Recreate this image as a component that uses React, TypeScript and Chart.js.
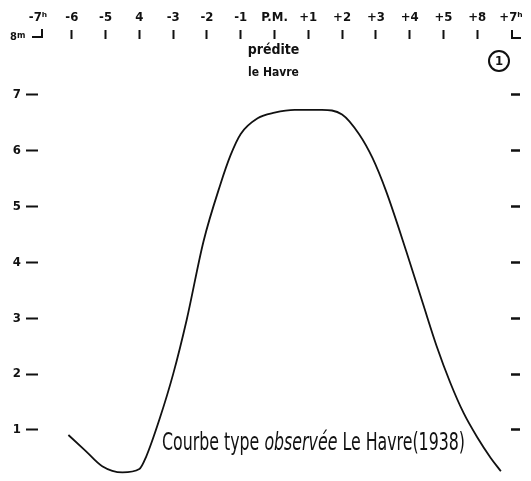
import React, { useEffect, useRef } from 'react';
import { Chart, registerables } from 'chart.js';

Chart.register(...registerables);

// ---- data ----
const hours = [-6.1, -5.6, -5.1, -4.5, -4.0, -3.8, -3.4, -3.0, -2.6, -2.1, -1.6, -1.3, -1.0, -0.5, 0, 0.6, 1.4, 2.0, 2.5, 2.9, 3.3, 3.9, 4.4, 4.8, 5.2, 5.6, 6.0, 6.4, 6.7];
const heights = [0.91, 0.63, 0.35, 0.24, 0.3, 0.52, 1.2, 2.0, 2.97, 4.38, 5.4, 5.92, 6.3, 6.58, 6.68, 6.73, 6.73, 6.65, 6.3, 5.87, 5.28, 4.2, 3.25, 2.5, 1.85, 1.3, 0.87, 0.5, 0.26];

const hourTicks = [-7, -6, -5, -4, -3, -2, -1, 0, 1, 2, 3, 4, 5, 6, 7];
const hourLabels = ['-7ʰ', '-6', '-5', '4', '-3', '-2', '-1', 'P.M.', '+1', '+2', '+3', '+4', '+5', '+8', '+7ʰ'];
const heightTicks = [1, 2, 3, 4, 5, 6, 7];
const heightLabels = ['1', '2', '3', '4', '5', '6', '7'];
const topHeightLabel = '8';
const unitLabel = 'm';
const predictedLabels = ['prédite', 'le Havre'];
const figureNumber = '1';
const titleParts = [
  { text: 'Courbe type ', italic: false },
  { text: 'observée', italic: true },
  { text: ' Le Havre(1938)', italic: false },
];

const X_MIN = -7;
const X_MAX = 7;
const Y_MIN = 0.14;
const Y_MAX = 8;

const FONT = '"DejaVu Sans Condensed", "Liberation Sans Narrow", "DejaVu Sans", sans-serif';
const INK = '#111';

const decorations = {
  id: 'decorations',
  afterDraw(chart: any) {
    const ctx = chart.ctx as CanvasRenderingContext2D;
    const xs = chart.scales.x;
    const ys = chart.scales.y;
    const x0 = xs.getPixelForValue(X_MIN);
    const x7 = xs.getPixelForValue(X_MAX);
    const xPM = xs.getPixelForValue(0);
    const yTop = ys.getPixelForValue(Y_MAX);
    ctx.save();
    ctx.fillStyle = INK;
    ctx.strokeStyle = INK;

    // "8m" corner with bracket
    ctx.font = `bold 11px ${FONT}`;
    ctx.textAlign = 'left';
    ctx.textBaseline = 'alphabetic';
    ctx.fillText(topHeightLabel, 10, yTop + 1);
    ctx.font = `bold 9px ${FONT}`;
    ctx.fillText(unitLabel, 17, yTop - 1);
    ctx.lineWidth = 2;
    ctx.beginPath();
    ctx.moveTo(x0 - 6, yTop - 2);
    ctx.lineTo(x0 + 4, yTop - 2);
    ctx.lineTo(x0 + 4, yTop - 10);
    ctx.stroke();

    // "L" bracket at +7h
    ctx.beginPath();
    ctx.moveTo(x7 + 1, yTop - 9);
    ctx.lineTo(x7 + 1, yTop - 1);
    ctx.lineTo(x7 + 10, yTop - 1);
    ctx.stroke();

    // prédite / le Havre
    ctx.textAlign = 'center';
    ctx.textBaseline = 'middle';
    ctx.font = `bold 14px ${FONT}`;
    ctx.fillText(predictedLabels[0], xPM - 1, yTop + 11);
    ctx.font = `bold 12px ${FONT}`;
    ctx.fillText(predictedLabels[1], xPM - 1, yTop + 34);

    // circled figure number
    ctx.lineWidth = 2;
    ctx.beginPath();
    ctx.arc(x7 - 12, yTop + 22, 10, 0, Math.PI * 2);
    ctx.stroke();
    ctx.font = `bold 13px ${FONT}`;
    ctx.fillText(figureNumber, x7 - 12, yTop + 23);

    // title, condensed
    const size = 25;
    const fonts = titleParts.map((p) => `${p.italic ? 'italic ' : ''}${size}px ${FONT}`);
    let total = 0;
    const widths = titleParts.map((p, i) => {
      ctx.font = fonts[i];
      const w = ctx.measureText(p.text).width;
      total += w;
      return w;
    });
    const targetW = 303;
    const sx = targetW / total;
    ctx.translate(162, 450);
    ctx.scale(sx, 1);
    ctx.textAlign = 'left';
    ctx.textBaseline = 'alphabetic';
    let cx = 0;
    titleParts.forEach((p, i) => {
      ctx.font = fonts[i];
      ctx.fillText(p.text, cx, 0);
      cx += widths[i];
    });
    ctx.restore();
  },
};

const zeroPad = (s: any) => {
  s.paddingTop = 0;
  s.paddingBottom = 0;
  s.paddingLeft = 0;
  s.paddingRight = 0;
};

export default function App() {
  const ref = useRef<HTMLCanvasElement | null>(null);
  useEffect(() => {
    if (!ref.current) return;
    const chart = new Chart(ref.current, {
      type: 'line',
      data: {
        datasets: [
          {
            data: hours.map((h, i) => ({ x: h, y: heights[i] })),
            borderColor: INK,
            borderWidth: 1.8,
            pointRadius: 0,
            fill: false,
            cubicInterpolationMode: 'monotone',
          },
        ],
      },
      options: {
        animation: false,
        responsive: true,
        maintainAspectRatio: false,
        layout: { padding: { top: 0, left: 0, right: 0, bottom: 3 } },
        plugins: { legend: { display: false }, tooltip: { enabled: false }, title: { display: false } },
        scales: {
          x: {
            type: 'linear',
            position: 'top',
            min: X_MIN,
            max: X_MAX,
            afterBuildTicks: (s: any) => {
              s.ticks = hourTicks.map((v) => ({ value: v }));
            },
            afterFit: (s: any) => {
              s.height = 39;
              zeroPad(s);
            },
            border: { display: false },
            grid: {
              drawOnChartArea: false,
              drawTicks: true,
              tickLength: 9,
              tickWidth: 2,
              tickColor: (c: any) =>
                c.tick && (c.tick.value === X_MIN || c.tick.value === X_MAX) ? 'rgba(0,0,0,0)' : INK,
            },
            ticks: {
              autoSkip: false,
              maxRotation: 0,
              padding: 5,
              color: INK,
              font: { family: FONT, size: 13, weight: 'bold' },
              callback: (v: any) => hourLabels[hourTicks.indexOf(Number(v))] ?? '',
            },
          },
          y: {
            type: 'linear',
            position: 'left',
            min: Y_MIN,
            max: Y_MAX,
            afterBuildTicks: (s: any) => {
              s.ticks = heightTicks.map((v) => ({ value: v }));
            },
            afterFit: (s: any) => {
              s.width = 38;
              zeroPad(s);
            },
            border: { display: false },
            grid: {
              drawOnChartArea: false,
              drawTicks: true,
              tickLength: 12,
              tickWidth: 2,
              tickColor: INK,
            },
            ticks: {
              padding: 5,
              color: INK,
              font: { family: FONT, size: 13, weight: 'bold' },
              callback: (v: any) => heightLabels[heightTicks.indexOf(Number(v))] ?? '',
            },
          },
          y2: {
            type: 'linear',
            position: 'right',
            min: Y_MIN,
            max: Y_MAX,
            afterBuildTicks: (s: any) => {
              s.ticks = heightTicks.map((v) => ({ value: v }));
            },
            afterFit: (s: any) => {
              s.width = 20;
              zeroPad(s);
            },
            border: { display: false },
            grid: {
              drawOnChartArea: false,
              drawTicks: true,
              tickLength: 9,
              tickWidth: 2.5,
              tickColor: INK,
            },
            ticks: { display: false },
          },
        },
      },
      plugins: [decorations],
    } as any);
    return () => chart.destroy();
  }, []);

  return (
    <div style={{ position: 'absolute', left: 0, top: 0, width: 531, height: 481, background: '#fff' }}>
      <canvas ref={ref} />
    </div>
  );
}
